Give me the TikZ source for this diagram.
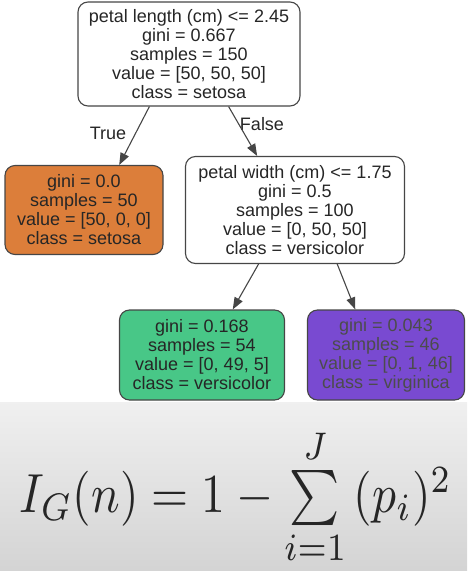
\documentclass[tikz,border=0pt]{standalone}
\usepackage{amsmath}
\usepackage{graphicx}
\usepackage{fontspec}
\setmainfont{Liberation Sans}
\usepackage{tikz}
\usetikzlibrary{arrows.meta}

\definecolor{setosaC}{RGB}{220,126,58}
\definecolor{versiC}{RGB}{72,199,135}
\definecolor{virgC}{RGB}{121,74,209}
\definecolor{edgeC}{RGB}{70,70,70}

\begin{document}
\begin{tikzpicture}[
  x=1pt,y=-1pt,
  box/.style={draw=edgeC,line width=1.1pt,rounded corners=10pt,align=center,
    inner sep=0pt,font=\fontsize{18}{19}\selectfont,text=black!85},
  arr/.style={-{Triangle[length=12pt,width=9pt]},draw=edgeC,line width=1.1pt},
  lbl/.style={font=\fontsize{18}{19}\selectfont,text=black!85}
]
\useasboundingbox (0,0) rectangle (467,571);
\shade[top color=black!6,bottom color=black!17] (0,402) rectangle (467,571);

\node[box,fill=white,minimum width=222pt,minimum height=104pt] (root) at (189,54)
  {petal length (cm) <= 2.45\\gini = 0.667\\samples = 150\\value = [50, 50, 50]\\class = setosa};
\node[box,fill=setosaC,minimum width=158pt,minimum height=89pt] (setosa) at (84,210)
  {gini = 0.0\\samples = 50\\value = [50, 0, 0]\\class = setosa};
\node[box,fill=white,minimum width=219pt,minimum height=107pt] (split) at (295,210)
  {petal width (cm) <= 1.75\\gini = 0.5\\samples = 100\\value = [0, 50, 50]\\class = versicolor};
\node[box,fill=versiC,minimum width=165pt,minimum height=90pt] (versi) at (202,355)
  {gini = 0.168\\samples = 54\\value = [0, 49, 5]\\class = versicolor};
\node[box,fill=virgC,minimum width=157pt,minimum height=90pt,text=black!70] (virg) at (386,355)
  {gini = 0.043\\samples = 46\\value = [0, 1, 46]\\class = virginica};

\node[lbl] (true) at (108,133) {True};
\node[lbl] (false) at (262,124) {False};

\draw[arr] (root.-127) -- (setosa.52);
\draw[arr] (root.-53) -- (split.125);
\draw[arr] (split.-124) -- (versi.56);
\draw[arr] (split.-52) -- (virg.124);

% Gini impurity
\node[text=black!85,inner sep=0pt] (gini) at (236,497)
  {\resizebox*{432pt}{138pt}{$I_G(n)=1-\sum\limits_{i=1}^{J}\,(p_i)^2$}};
\end{tikzpicture}
\end{document}
